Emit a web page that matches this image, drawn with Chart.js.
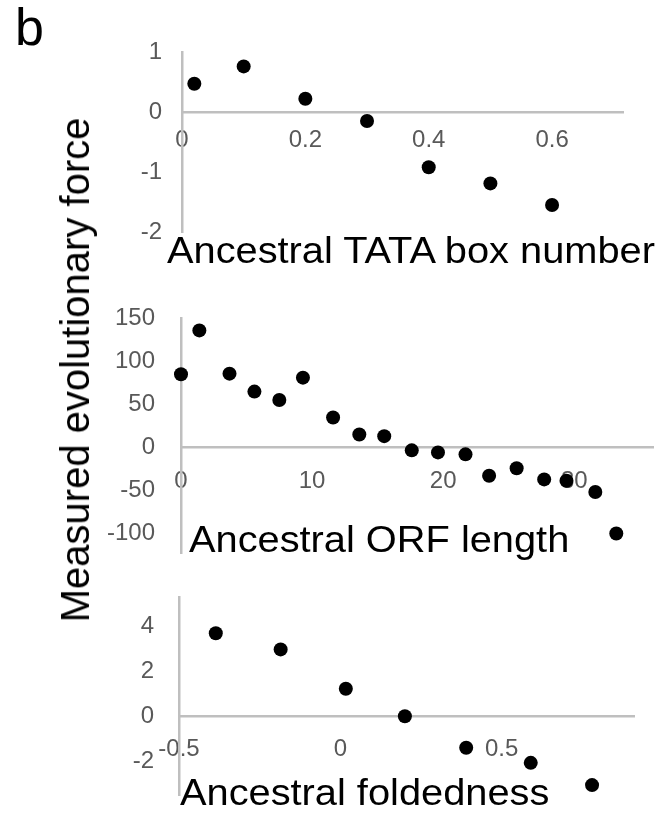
<!DOCTYPE html>
<html>
<head>
<meta charset="utf-8">
<title>Measured evolutionary force</title>
<script src="https://cdn.jsdelivr.net/npm/chart.js@4.4.1/dist/chart.umd.min.js"></script>
<style>
  html, body { margin: 0; padding: 0; background: #ffffff; }
  #page { position: relative; width: 660px; height: 827px; overflow: hidden; font-family: "Liberation Sans", Arial, sans-serif; }
  canvas { position: absolute; left: 0; }
  .txt { position: absolute; white-space: nowrap; color: #000; }
  #panelLetter { left: 15px; top: 1px; font-size: 52px; line-height: 52px; }
  #yTitle { left: 75px; top: 370px; font-size: 40px; line-height: 40px; transform: translate(-50%, -50%) rotate(-90deg); }
  .xTitle { font-size: 36px; line-height: 36px; transform: scaleX(1.105); transform-origin: 0 0; }
</style>
</head>
<body>
<div id="page">
  <canvas id="c1" width="660" height="282" style="top:0px"></canvas>
  <canvas id="c2" width="660" height="335" style="top:268px"></canvas>
  <canvas id="c3" width="660" height="300" style="top:547px"></canvas>
  <div class="txt" id="panelLetter">b</div>
  <div class="txt" id="yTitle">Measured evolutionary force</div>
  <div class="txt xTitle" style="left:167px; top:233px">Ancestral TATA box number</div>
  <div class="txt xTitle" style="left:189px; top:522px">Ancestral ORF length</div>
  <div class="txt xTitle" style="left:180px; top:775px">Ancestral foldedness</div>
</div>
<script>
// Panel 1: ancestral TATA box number
const tataX = [0.02, 0.1, 0.2, 0.3, 0.4, 0.5, 0.6];
const tataY = [0.47, 0.76, 0.22, -0.15, -0.92, -1.19, -1.55];
const tataXTicks = [0, 0.2, 0.4, 0.6];
const tataYTicks = [-2, -1, 0, 1];

// Panel 2: ancestral ORF length
const orfX = [0, 1.4, 3.7, 5.6, 7.5, 9.3, 11.6, 13.6, 15.5, 17.6, 19.6, 21.7, 23.5, 25.6, 27.7, 29.4, 31.6, 33.2];
const orfY = [84.5, 135.6, 85.3, 64.4, 54.6, 80.6, 34.2, 14.5, 12.6, -3.9, -6.3, -8.6, -33.4, -24.8, -37.7, -39.3, -52.3, -100.6];
const orfXTicks = [0, 10, 20, 30];
const orfYTicks = [-100, -50, 0, 50, 100, 150];

// Panel 3: ancestral foldedness
const foldX = [-0.386, -0.185, 0.017, 0.2, 0.39, 0.59, 0.78];
const foldY = [3.69, 2.97, 1.22, 0, -1.4, -2.07, -3.06];
const foldXTicks = [-0.5, 0, 0.5];
const foldYTicks = [-2, 0, 2, 4];

const AXIS_GREY = '#bfbfbf';
const TICK_GREY = '#595959';
const TICK_FONT = { family: '"Liberation Sans", Arial, sans-serif', size: 24 };

function fixedTicks(list) {
  return scale => { scale.ticks = list.map(v => ({ value: v })); };
}

// Builds one scatter panel whose x axis crosses the y axis at zero.
function scatterPanel(canvasId, xs, ys, xTicks, yTicks, geo) {
  const points = xs.map((x, i) => ({ x: x, y: ys[i] }));
  return new Chart(document.getElementById(canvasId), {
    type: 'scatter',
    data: {
      datasets: [{
        data: points,
        xAxisID: 'x',
        yAxisID: 'y',
        pointRadius: 7,
        pointHoverRadius: 7,
        pointBackgroundColor: '#000000',
        pointBorderWidth: 0,
        clip: false
      }]
    },
    options: {
      responsive: false,
      animation: false,
      devicePixelRatio: 1,
      events: [],
      layout: { padding: { left: 0, right: geo.padRight, top: geo.padTop, bottom: geo.padBottom } },
      plugins: { legend: { display: false }, tooltip: { enabled: false } },
      scales: {
        // axis line at y = 0, drawn beneath the markers
        xLine: {
          type: 'linear',
          axis: 'x',
          position: { y: 0 },
          min: geo.xMin, max: geo.xMax,
          z: 0,
          grid: { display: false, drawTicks: false },
          border: { display: true, color: AXIS_GREY, width: 2.5 },
          ticks: { display: false },
          afterFit: s => { s.height = 0; }
        },
        // tick labels of the x axis, drawn over the markers
        x: {
          type: 'linear',
          position: { y: 0 },
          min: geo.xMin, max: geo.xMax,
          z: 1,
          grid: { display: false, drawTicks: false },
          border: { display: false },
          afterBuildTicks: fixedTicks(xTicks),
          ticks: {
            autoSkip: false, maxRotation: 0, minRotation: 0,
            padding: geo.xPad, color: TICK_GREY, font: TICK_FONT,
            callback: v => String(v)
          },
          afterFit: s => { s.height = 0; }
        },
        y: {
          type: 'linear',
          position: 'left',
          min: geo.yMin, max: geo.yMax,
          grid: { display: false, drawTicks: false },
          border: { display: true, color: AXIS_GREY, width: 2.5 },
          afterBuildTicks: fixedTicks(yTicks),
          ticks: {
            autoSkip: false, padding: geo.yPad, color: TICK_GREY, font: TICK_FONT,
            callback: v => String(v)
          },
          afterFit: s => { s.width = geo.left; }
        }
      }
    }
  });
}

// plot areas: panel 1 x 182..623, y 52..232 ; panel 2 x 181..654, y 318..553 ; panel 3 x 179..634, y 597..795
scatterPanel('c1', tataX, tataY, tataXTicks, tataYTicks,
  { xMin: 0, xMax: 0.715, yMin: -2, yMax: 1, left: 182, padRight: 37, padTop: 52, padBottom: 50, xPad: 14, yPad: 20 });
scatterPanel('c2', orfX, orfY, orfXTicks, orfYTicks,
  { xMin: 0, xMax: 36, yMin: -123.3, yMax: 150, left: 181, padRight: 6, padTop: 50, padBottom: 50, xPad: 20, yPad: 26 });
scatterPanel('c3', foldX, foldY, foldXTicks, foldYTicks,
  { xMin: -0.5, xMax: 0.91, yMin: -3.5, yMax: 5.3, left: 179, padRight: 26, padTop: 50, padBottom: 52, xPad: 19, yPad: 25 });
</script>
</body>
</html>
